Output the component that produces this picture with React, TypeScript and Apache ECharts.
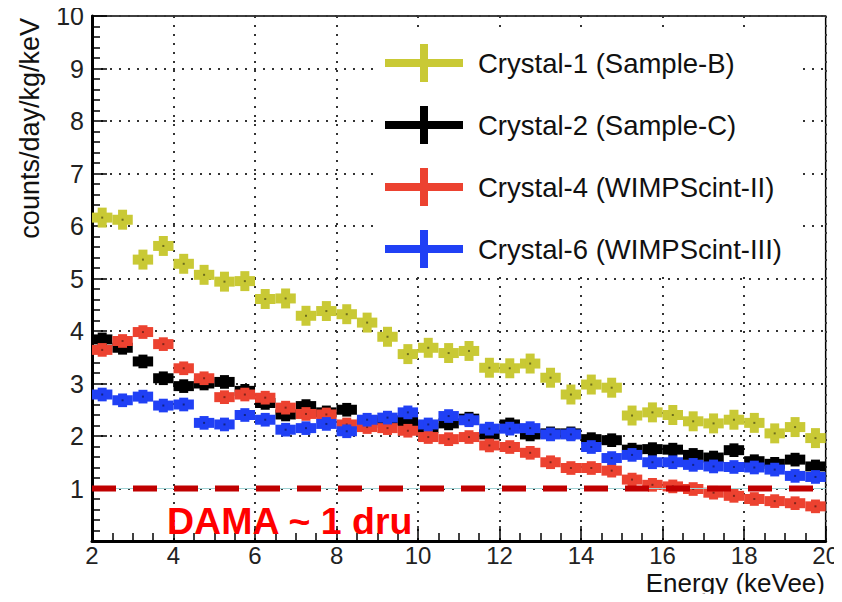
import React, { useEffect, useRef } from "react";
import * as echarts from "echarts";

// Bin centres (keVee), 0.5 keV wide bins from 2 to 20
const energies = [
  2.25, 2.75, 3.25, 3.75, 4.25, 4.75, 5.25, 5.75, 6.25, 6.75, 7.25, 7.75,
  8.25, 8.75, 9.25, 9.75, 10.25, 10.75, 11.25, 11.75, 12.25, 12.75, 13.25, 13.75,
  14.25, 14.75, 15.25, 15.75, 16.25, 16.75, 17.25, 17.75, 18.25, 18.75, 19.25, 19.75,
];

const crystal1 = [
  6.16, 6.12, 5.36, 5.62, 5.28, 5.07, 4.94, 4.95, 4.61, 4.62, 4.29, 4.38,
  4.32, 4.16, 3.89, 3.56, 3.68, 3.58, 3.62, 3.3, 3.29, 3.38, 3.11, 2.79,
  2.98, 2.92, 2.39, 2.45, 2.4, 2.28, 2.24, 2.31, 2.25, 2.05, 2.17, 1.96,
];
const crystal2 = [
  3.84, 3.68, 3.42, 3.1, 2.95, 3.0, 3.03, 2.86, 2.63, 2.41, 2.57, 2.45,
  2.5, 2.25, 2.3, 2.28, 2.15, 2.24, 2.33, 2.03, 2.22, 2.03, 2.05, 2.05,
  1.94, 1.92, 1.74, 1.75, 1.74, 1.64, 1.59, 1.73, 1.52, 1.47, 1.55, 1.42,
];
const crystal4 = [
  3.64, 3.81, 3.98, 3.75, 3.29, 3.1, 2.74, 2.79, 2.73, 2.54, 2.42, 2.41,
  2.22, 2.17, 2.15, 2.1, 1.98, 1.94, 1.98, 1.82, 1.79, 1.68, 1.5, 1.39,
  1.39, 1.34, 1.17, 1.07, 1.04, 0.99, 0.92, 0.86, 0.8, 0.76, 0.72, 0.66,
];
const crystal6 = [
  2.79, 2.68, 2.75, 2.58, 2.6, 2.25, 2.22, 2.4, 2.31, 2.12, 2.15, 2.23,
  2.09, 2.31, 2.35, 2.45, 2.22, 2.38, 2.3, 2.14, 2.14, 2.15, 2.03, 2.03,
  1.79, 1.58, 1.64, 1.5, 1.5, 1.45, 1.42, 1.41, 1.4, 1.36, 1.24, 1.22,
];

// Statistical error (counts/day/kg/keV) per crystal
const errors = [0.19, 0.13, 0.13, 0.13];

const seriesNames = [
  "Crystal-1 (Sample-B)",
  "Crystal-2 (Sample-C)",
  "Crystal-4 (WIMPScint-II)",
  "Crystal-6 (WIMPScint-III)",
];
const seriesValues = [crystal1, crystal2, crystal4, crystal6];
const seriesColors = ["#c9c935", "#000000", "#ec4230", "#2040f5"];

// DAMA reference level
const damaLevel = 1;
const damaLabel = "DAMA ~ 1 dru";

const xTitle = "Energy (keVee)";
const yTitle = "counts/day/kg/keV";

const FONT = '"Liberation Sans", Arial, Helvetica, sans-serif';
const CROSS_ICON = "path://M0,15H78V23H0Z M35,0H43V38H35Z";

const BAR_H = 10; // thickness of the horizontal bin bar (px)
const BAR_W = 9; // width of the vertical error bar (px)

function makeRenderItem(err: number, color: string) {
  return (_params: any, api: any) => {
    const x = api.value(0);
    const y = api.value(1);
    const c = api.coord([x, y]);
    const half = api.size([0.25, 0])[0];
    const ePx = api.size([0, err])[1];
    return {
      type: "group",
      children: [
        {
          type: "rect",
          shape: { x: c[0] - half, y: c[1] - BAR_H / 2, width: 2 * half, height: BAR_H },
          style: { fill: color },
        },
        {
          type: "rect",
          shape: { x: c[0] - BAR_W / 2, y: c[1] - ePx, width: BAR_W, height: 2 * ePx },
          style: { fill: color },
        },
        {
          type: "rect",
          shape: { x: c[0] - 1, y: c[1] - 1, width: 2, height: 2 },
          style: { fill: "rgba(0,0,0,0.45)" },
        },
      ],
    };
  };
}

export default function App() {
  const ref = useRef<HTMLDivElement>(null);

  useEffect(() => {
    if (!ref.current) return;
    const chart = echarts.init(ref.current, null, { renderer: "svg" });

    const dataSeries = seriesNames.map((name, i) => ({
      name,
      type: "custom",
      renderItem: makeRenderItem(errors[i], seriesColors[i]),
      itemStyle: { color: seriesColors[i] },
      encode: { x: 0, y: 1 },
      data: energies.map((e, k) => [e, seriesValues[i][k]]),
      z: 3 + i,
    }));

    chart.setOption({
      animation: false,
      backgroundColor: "#ffffff",
      textStyle: { fontFamily: FONT },
      grid: {
        left: 92,
        right: 16,
        top: 16,
        bottom: 61,
        show: true,
        borderColor: "#000",
        borderWidth: 1.5,
        backgroundColor: "transparent",
      },
      legend: {
        left: 375,
        top: 28,
        orient: "vertical",
        padding: [16, 16, 5, 10],
        backgroundColor: "#ffffff",
        itemWidth: 78,
        itemHeight: 38,
        itemGap: 24,
        data: seriesNames.map((name) => ({ name, icon: CROSS_ICON })),
        textStyle: {
          fontFamily: FONT,
          fontSize: 27.5,
          color: "#111",
          padding: [0, 0, 0, 10],
        },
        z: 10,
      },
      xAxis: {
        type: "value",
        min: 2,
        max: 20,
        interval: 2,
        axisLine: { show: true, onZero: false, lineStyle: { color: "#000", width: 3 } },
        axisTick: { show: true, inside: true, length: 15, lineStyle: { color: "#000", width: 1.5 } },
        minorTick: { show: true, splitNumber: 4, length: 8, lineStyle: { color: "#000", width: 1.5 } },
        axisLabel: { fontSize: 24, color: "#222", margin: 2, fontFamily: FONT },
        splitLine: { show: true, lineStyle: { color: "#333", width: 2, type: [2, 7] } },
      },
      yAxis: {
        type: "value",
        min: 0,
        max: 10,
        interval: 1,
        axisLine: { show: true, onZero: false, lineStyle: { color: "#000", width: 3 } },
        axisTick: { show: true, inside: true, length: 15, lineStyle: { color: "#000", width: 1.5 } },
        minorTick: { show: true, splitNumber: 5, length: 8, lineStyle: { color: "#000", width: 1.5 } },
        axisLabel: {
          fontSize: 25,
          color: "#222",
          margin: 8,
          fontFamily: FONT,
          formatter: (v: number) => (v === 0 ? "" : String(v)),
        },
        splitLine: { show: true, lineStyle: { color: "#333", width: 2, type: [2, 7] } },
      },
      graphic: [
        {
          type: "text",
          x: 30,
          y: 18,
          rotation: Math.PI / 2,
          style: {
            text: yTitle,
            fontSize: 27,
            fontFamily: FONT,
            fill: "#111",
            align: "right",
            verticalAlign: "middle",
          },
        },
        {
          type: "text",
          x: 825,
          y: 583,
          style: {
            text: xTitle,
            fontSize: 26,
            fontFamily: FONT,
            fill: "#111",
            align: "right",
            verticalAlign: "middle",
          },
        },
        {
          type: "text",
          x: 167,
          y: 521,
          z: 20,
          style: {
            text: damaLabel,
            fontSize: 37.5,
            fontWeight: "bold",
            fontFamily: FONT,
            fill: "#ff0000",
            align: "left",
            verticalAlign: "middle",
          },
        },
      ],
      series: [
        ...dataSeries,
        {
          name: "dama-thin",
          type: "line",
          data: [
            [2, damaLevel],
            [20, damaLevel],
          ],
          showSymbol: false,
          symbol: "none",
          silent: true,
          lineStyle: { color: "#9fd2d4", width: 1 },
          z: 8,
        },
        {
          name: "dama",
          type: "line",
          data: [
            [2, damaLevel],
            [20, damaLevel],
          ],
          showSymbol: false,
          symbol: "none",
          silent: true,
          lineStyle: { color: "#c00000", width: 6, type: [24, 17] },
          z: 9,
        },
      ],
    });

    return () => chart.dispose();
  }, []);

  return <div ref={ref} style={{ width: 842, height: 602, margin: -8 }} />;
}
